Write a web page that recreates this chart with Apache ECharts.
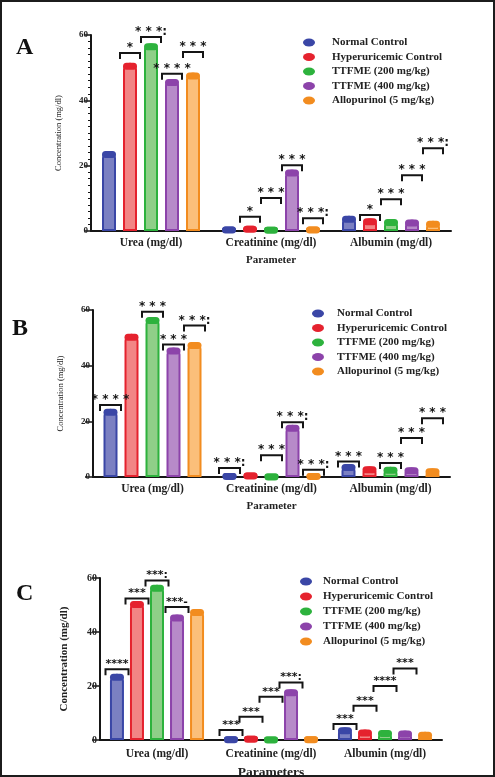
<!DOCTYPE html>
<html>
<head>
<meta charset="utf-8">
<script src="https://cdn.jsdelivr.net/npm/echarts@6/dist/echarts.min.js"></script>
<style>
  html, body { margin: 0; padding: 0; background: #fff; }
  #chart { position: absolute; left: 0; top: 0; width: 495px; height: 777px; }
  #frame {
    position: absolute; left: 0; top: 0; width: 495px; height: 777px;
    box-sizing: border-box; border: 2px solid #1c1c1c; pointer-events: none;
  }
</style>
</head>
<body>
<div id="chart"></div>
<div id="frame"></div>
<script>
// categories and groups
const categories = ["Urea (mg/dl)", "Creatinine (mg/dl)", "Albumin (mg/dl)"];
const groupNames = [
  "Normal Control",
  "Hyperuricemic Control",
  "TTFME (200 mg/kg)",
  "TTFME (400 mg/kg)",
  "Allopurinol (5 mg/kg)",
];

// concentration values per group, in category order
const normalControl = [24.5, 1.4, 4.7];
const hyperuricemicControl = [51.5, 1.6, 3.9];
const ttfme200 = [57.5, 1.3, 3.7];
const ttfme400 = [46.5, 18.8, 3.5];
const allopurinol = [48.5, 1.4, 3.1];
const groupValues = [normalControl, hyperuricemicControl, ttfme200, ttfme400, allopurinol];

const yTicks = [0, 20, 40, 60];

// significance marks: [category index, group index, bracket level (mg/dl), stars]
const sigA = [
  [0, 1, 54.5, "*"], [0, 2, 59.4, "***:"], [0, 3, 48.1, "****"], [0, 4, 54.8, "***"],
  [1, 1, 4.4, "*"], [1, 2, 10.1, "***"], [1, 3, 20.1, "***"], [1, 4, 3.9, "***:"],
  [2, 1, 4.9, "*"], [2, 2, 9.7, "***"], [2, 3, 17.1, "***"], [2, 4, 25.3, "***:"],
];
const sigB = [
  [0, 0, 25.9, "****"], [0, 2, 59.4, "***"], [0, 3, 47.6, "***"], [0, 4, 54.4, "***:"],
  [1, 0, 3.2, "***:"], [1, 2, 7.8, "***"], [1, 3, 19.7, "***:"], [1, 4, 2.6, "***:"],
  [2, 0, 5.6, "***"], [2, 2, 5.0, "***"], [2, 3, 14.0, "***"], [2, 4, 21.1, "***"],
];
const sigC = [
  [0, 0, 26.2, "****"], [0, 1, 52.4, "***"], [0, 2, 59.1, "***:"], [0, 3, 49.3, "***-"],
  [1, 0, 3.7, "***"], [1, 1, 8.6, "***"], [1, 2, 16.0, "***"], [1, 3, 21.3, "***:"],
  [2, 0, 5.9, "***"], [2, 1, 12.7, "***"], [2, 2, 20.0, "****"], [2, 3, 26.5, "***"],
];

const darkColors = ["#3a46a6", "#e5222e", "#2db23d", "#8c43aa", "#f28c1f"];
const lightColors = ["#7b80c2", "#f28585", "#8fcf88", "#b78ac9", "#fbbf7a"];

const SERIF = "Liberation Serif";
const pillPath = "path://M3.5,0 H10.5 A3.5,3.5 0 0,1 10.5,7 H3.5 A3.5,3.5 0 0,1 3.5,0 Z";
const dotPath = "path://M0,4 A6,4 0 1,1 12,4 A6,4 0 1,1 0,4 Z";

const panels = [
  {
    letter: "A", letterPos: [16, 49], sig: sigA, xName: "Parameter",
    grid: { left: 91, top: 35, width: 360, height: 196 },
    barGap: "50%", step: 21, bracketHalf: 10, starSize: 12, spaced: true,
    legend: { left: 303, top: 37, gap: 3.5, pad: 12 },
    minor: true, tickLen: 6, labelMargin: 6,
    yNameStyle: { fontFamily: SERIF, fontSize: 8.5, fontWeight: "normal" }, yNameGap: 28,
    yLabelSize: 9, xNameSize: 11, xNameGap: 24,
  },
  {
    letter: "B", letterPos: [12, 330], sig: sigB, xName: "Parameter",
    grid: { left: 93, top: 310, width: 357, height: 167 },
    barGap: "50%", step: 21, bracketHalf: 10.5, starSize: 12, spaced: true,
    legend: { left: 312, top: 308, gap: 3.5, pad: 8 },
    minor: false, tickLen: 8, labelMargin: 6,
    yNameStyle: { fontFamily: SERIF, fontSize: 8.5, fontWeight: "normal" }, yNameGap: 28,
    yLabelSize: 9, xNameSize: 11, xNameGap: 24,
  },
  {
    letter: "C", letterPos: [16, 595], sig: sigC, xName: "Parameters",
    grid: { left: 100, top: 578, width: 342, height: 162 },
    barGap: "43%", step: 20, bracketHalf: 11.5, starSize: 11, spaced: false,
    legend: { left: 300, top: 576, gap: 4, pad: 6 },
    minor: false, tickLen: 8, labelMargin: 8,
    yNameStyle: { fontFamily: "Liberation Sans Narrow", fontSize: 11, fontWeight: "bold" }, yNameGap: 30,
    yLabelSize: 10, xNameSize: 13.5, xNameGap: 26,
  },
];

function starText(s, spaced) {
  if (!spaced) return s;
  const m = s.match(/^(\*+)(.*)$/);
  return m[1].split("").join(" ") + m[2];
}

function makeBracketRenderer(panel) {
  return function (params, api) {
    const s = panel.sig[params.dataIndex];
    const pt = api.coord([api.value(0), api.value(1)]);
    const x = pt[0] + (s[1] - 2) * panel.step;
    const y = pt[1];
    const hw = panel.bracketHalf;
    return {
      type: "group",
      children: [
        {
          type: "polyline",
          shape: { points: [[x - hw, y + 6], [x - hw, y], [x + hw, y], [x + hw, y + 6]] },
          style: { stroke: "#151515", lineWidth: 2, fill: null },
        },
        {
          type: "text",
          x: x,
          y: y - 5,
          style: {
            text: starText(s[3], panel.spaced),
            fontFamily: "DejaVu Sans",
            fontWeight: "bold",
            fontSize: panel.starSize,
            fill: "#151515",
            align: "center",
            verticalAlign: "middle",
          },
        },
      ],
    };
  };
}

const grids = [];
const xAxes = [];
const yAxes = [];
const legends = [];
const series = [];
const graphics = [];

panels.forEach((panel, p) => {
  grids.push(Object.assign({ outerBoundsMode: "none", containLabel: false }, panel.grid));

  xAxes.push({
    type: "category",
    gridIndex: p,
    data: categories,
    name: panel.xName,
    nameLocation: "middle",
    nameGap: panel.xNameGap,
    nameTextStyle: { fontFamily: SERIF, fontWeight: "bold", fontSize: panel.xNameSize, color: "#222" },
    axisLine: { lineStyle: { color: "#161616", width: 2 } },
    axisTick: { alignWithLabel: true, length: 4, lineStyle: { color: "#161616", width: 2 } },
    axisLabel: {
      interval: 0, hideOverlap: false,
      fontFamily: SERIF, fontWeight: "bold", fontSize: 11.5, color: "#222", margin: panel.labelMargin,
    },
  });

  yAxes.push({
    type: "value",
    gridIndex: p,
    min: 0,
    max: 60,
    interval: 20,
    name: "Concentration (mg/dl)",
    nameLocation: "middle",
    nameGap: panel.yNameGap,
    nameTextStyle: Object.assign({ color: "#222" }, panel.yNameStyle),
    axisLine: { show: true, lineStyle: { color: "#161616", width: 2 } },
    axisTick: { show: true, length: panel.tickLen, lineStyle: { color: "#161616", width: 1.5 } },
    minorTick: { show: panel.minor, splitNumber: 10, length: 3, lineStyle: { color: "#161616", width: 1 } },
    splitLine: { show: false },
    axisLabel: {
      fontFamily: SERIF, fontWeight: "bold", fontSize: panel.yLabelSize, color: "#222", margin: 3,
      formatter: (v) => (yTicks.includes(v) ? String(v) : ""),
    },
  });

  legends.push({
    orient: "vertical",
    left: panel.legend.left,
    top: panel.legend.top,
    padding: 0,
    itemWidth: 12,
    itemHeight: 8,
    itemGap: panel.legend.gap,
    selectedMode: false,
    textStyle: {
      fontFamily: SERIF, fontWeight: "bold", fontSize: 11, color: "#222",
      lineHeight: 10, padding: [0, 0, 0, panel.legend.pad],
    },
    data: groupNames.map((n, g) => ({
      name: n,
      icon: dotPath,
      itemStyle: { color: darkColors[g], borderWidth: 0 },
    })),
  });

  groupValues.forEach((vals, g) => {
    series.push({
      type: "bar",
      name: groupNames[g],
      xAxisIndex: p,
      yAxisIndex: p,
      data: vals,
      barWidth: 14,
      barGap: panel.barGap,
      itemStyle: {
        color: lightColors[g],
        borderColor: darkColors[g],
        borderWidth: 2,
        borderRadius: [6, 6, 0, 0],
      },
      z: 2,
    });
    series.push({
      type: "pictorialBar",
      name: groupNames[g],
      xAxisIndex: p,
      yAxisIndex: p,
      data: vals,
      barWidth: 14,
      barGap: panel.barGap,
      symbol: pillPath,
      symbolSize: [14, 7],
      symbolPosition: "end",
      itemStyle: { color: darkColors[g] },
      z: 3,
    });
  });

  series.push({
    type: "custom",
    xAxisIndex: p,
    yAxisIndex: p,
    silent: true,
    clip: false,
    z: 5,
    data: panel.sig.map((s) => [s[0], s[2]]),
    renderItem: makeBracketRenderer(panel),
  });

  graphics.push({
    type: "text",
    left: panel.letterPos[0],
    top: panel.letterPos[1] - 13,
    style: { text: panel.letter, fontFamily: SERIF, fontWeight: "bold", fontSize: 24, fill: "#111" },
  });
});

const chart = echarts.init(document.getElementById("chart"), null, { renderer: "canvas" });
chart.setOption({
  animation: false,
  backgroundColor: "#fff",
  grid: grids,
  xAxis: xAxes,
  yAxis: yAxes,
  legend: legends,
  series: series,
  graphic: graphics,
});
</script>
</body>
</html>
